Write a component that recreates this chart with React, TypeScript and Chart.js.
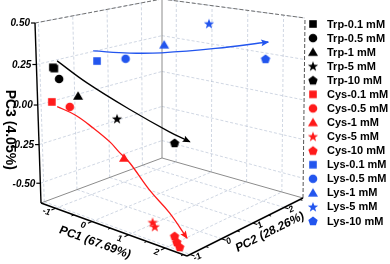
import React, { useEffect, useRef } from 'react';
import { Chart, registerables } from 'chart.js';

Chart.register(...registerables);

// ---------------- axes ----------------
const PC1_RANGE: [number, number] = [-1.4, 2.6];
const PC2_RANGE: [number, number] = [-1.1, 2.6];
const PC3_RANGE: [number, number] = [-0.63, 0.5];
const PC1_TICKS = [-1, 0, 1, 2];
const PC2_TICKS = [-1, 0, 1, 2];
const PC3_TICKS = [-0.5, -0.25, 0, 0.25, 0.5];
const PC1_TICK_LABELS = ['-1', '0', '1', '2'];
const PC2_TICK_LABELS = ['-1', '0', '1', '2'];
const PC3_TICK_LABELS = ['-0.50', '-0.25', '0.00', '0.25', '0.50'];
const AXIS_TITLES = ['PC1 (67.69%)', 'PC2 (28.26%)', 'PC3 (4.05%)'];

// ---------------- series ----------------
const ANALYTES = ['Trp', 'Cys', 'Lys'];
const CONCENTRATIONS = ['0.1 mM', '0.5 mM', '1 mM', '5 mM', '10 mM'];

// replicate scores [PC1, PC2, PC3] per concentration
const TRP_SCORES = [
  [[-1.3, -0.73, 0.221], [-1.26, -0.73, 0.216]],
  [[-1.14, -0.73, 0.158]],
  [[-0.64, -0.73, 0.081]],
  [[0.4, -0.73, 0.001]],
  [[1.95, -0.73, -0.055]],
];
const CYS_SCORES = [
  [[-1.08, -1.03, 0.035]],
  [[-0.6, -1.03, 0.033]],
  [[0.84, -1.03, -0.186]],
  [[1.6, -1.03, -0.515], [1.66, -1.03, -0.536]],
  [[2.2, -1.03, -0.551], [2.26, -1.03, -0.581], [2.34, -1.03, -0.604]],
];
const LYS_SCORES = [
  [[-0.78, 0.01, 0.251]],
  [[-0.51, 0.565, 0.25]],
  [[0.04, 1.12, 0.333]],
  [[0.6, 1.86, 0.447]],
  [[1.84, 2.23, 0.251]],
];

// trend arrows [PC1, PC2, PC3]
const TRP_TREND = [
  [-1.18, -0.73, 0.267], [-0.39, -0.73, 0.174], [0.75, -0.73, 0.075], [1.81, -0.73, 0.001], [2.36, -0.73, -0.027],
];
const CYS_TREND = [
  [-0.94, -1.03, 0.015], [-0.46, -1.03, -0.008], [0.02, -1.03, -0.058], [0.47, -1.03, -0.115], [0.73, -1.03, -0.163],
  [0.996, -1.03, -0.206], [1.52, -1.03, -0.33], [2.07, -1.03, -0.427], [2.54, -1.03, -0.538],
];
const LYS_TREND = [
  [-0.88, 0.01, 0.309], [-0.4, 0.565, 0.291], [-0.03, 1.12, 0.28], [0.78, 1.86, 0.299], [1.91, 2.23, 0.357],
];

// ---------------- styles / layout ----------------
const ANALYTE_COLORS = ['#000000', '#ff1a1a', '#2255ee'];
const MARKER_SHAPES = ['square', 'circle', 'triangle', 'star', 'pentagon'];
const FONT = '"Liberation Sans", Arial, sans-serif';
const W = 390;
const H = 264;
// projected box (in the chart's x/y scale units)
const FLOOR = { A: [41, 203], D: [187, 256], C: [303, 198], B: [162, 158] };
const HEIGHTS = { A: 180, B: 159, C: 180 };
const TILTS = { A: -6, D: 0, C: 2, B: 0 };
const DEPTH_K = 0.052;
const LEGEND = { markerX: 313, textX: 327, top: 24, step: 14.07 };

function norm(v: number, r: [number, number]) {
  return (v - r[0]) / (r[1] - r[0]);
}

function project(u: number, v: number, w: number) {
  const a = (1 - u) * (1 - v), d = u * (1 - v), c = u * v, b = (1 - u) * v;
  const fx = FLOOR.A[0] * a + FLOOR.D[0] * d + FLOOR.C[0] * c + FLOOR.B[0] * b;
  const fy = FLOOR.A[1] * a + FLOOR.D[1] * d + FLOOR.C[1] * c + FLOOR.B[1] * b;
  const iA = 1 / HEIGHTS.A, iB = 1 / HEIGHTS.B, iC = 1 / HEIGHTS.C;
  const iD = iA + iC - iB;
  const invS = iA + u * (iD - iA) + v * (iB - iA);
  const tilt = TILTS.A * a + TILTS.D * d + TILTS.C * c + TILTS.B * b;
  const g = (w * (1 - DEPTH_K)) / (1 - DEPTH_K * w);
  return { x: fx + tilt * g, y: fy - g / invS };
}

function toXY(p: number[]) {
  return project(norm(p[0], PC1_RANGE), norm(p[1], PC2_RANGE), norm(p[2], PC3_RANGE));
}

function makeMarker(shape: string, color: string) {
  const size = 12;
  const cv = document.createElement('canvas');
  cv.width = size;
  cv.height = size;
  const g = cv.getContext('2d')!;
  g.fillStyle = color;
  const m = size / 2;
  g.beginPath();
  if (shape === 'square') {
    g.rect(m - 3.8, m - 3.8, 7.6, 7.6);
  } else if (shape === 'circle') {
    g.arc(m, m, 4.3, 0, Math.PI * 2);
  } else if (shape === 'triangle') {
    g.moveTo(m, m - 4.8);
    g.lineTo(m + 5, m + 3.8);
    g.lineTo(m - 5, m + 3.8);
    g.closePath();
  } else if (shape === 'star') {
    for (let i = 0; i < 10; i++) {
      const r = i % 2 ? 2.2 : 5.4;
      const ang = -Math.PI / 2 + (i * Math.PI) / 5;
      const x = m + r * Math.cos(ang), y = m + 0.3 + r * Math.sin(ang);
      if (i === 0) g.moveTo(x, y); else g.lineTo(x, y);
    }
    g.closePath();
  } else {
    for (let i = 0; i < 5; i++) {
      const ang = -Math.PI / 2 + (i * 2 * Math.PI) / 5;
      const x = m + 4.9 * Math.cos(ang), y = m + 0.4 + 4.9 * Math.sin(ang);
      if (i === 0) g.moveTo(x, y); else g.lineTo(x, y);
    }
    g.closePath();
  }
  g.fill();
  return cv;
}

export default function App() {
  const ref = useRef<HTMLCanvasElement | null>(null);

  useEffect(() => {
    document.body.style.margin = '0';
    const canvas = ref.current;
    if (!canvas) return;

    const allScores = [TRP_SCORES, CYS_SCORES, LYS_SCORES];
    const trends = [TRP_TREND, CYS_TREND, LYS_TREND];
    const markers: HTMLCanvasElement[][] = ANALYTE_COLORS.map((col) => MARKER_SHAPES.map((s) => makeMarker(s, col)));

    const datasets: any[] = [];
    trends.forEach((t, a) => {
      datasets.push({
        label: '',
        isTrend: true,
        data: t.map(toXY),
        showLine: true,
        tension: 0.4,
        borderColor: ANALYTE_COLORS[a],
        borderWidth: 1.3,
        pointRadius: 0,
        fill: false,
        order: 0,
      });
    });
    const legendItems: { text: string; marker: HTMLCanvasElement }[] = [];
    allScores.forEach((series, a) => {
      series.forEach((reps, i) => {
        const label = `${ANALYTES[a]}-${CONCENTRATIONS[i]}`;
        legendItems.push({ text: label, marker: markers[a][i] });
        datasets.push({
          label,
          data: reps.map(toXY),
          pointStyle: markers[a][i],
          pointRadius: 5,
          backgroundColor: ANALYTE_COLORS[a],
          borderColor: ANALYTE_COLORS[a],
          showLine: false,
          order: 1,
        });
      });
    });

    const boxPlugin = {
      id: 'box3d',
      beforeDatasetsDraw(chart: any) {
        const ctx = chart.ctx as CanvasRenderingContext2D;
        const sx = chart.scales.x, sy = chart.scales.y;
        const P = (u: number, v: number, w: number) => {
          const q = project(u, v, w);
          return { x: sx.getPixelForValue(q.x), y: sy.getPixelForValue(q.y) };
        };
        const seg = (p: any, q: any, color: string, width: number, dash: number[] = []) => {
          ctx.save();
          ctx.strokeStyle = color;
          ctx.lineWidth = width;
          ctx.setLineDash(dash);
          ctx.beginPath();
          ctx.moveTo(p.x, p.y);
          ctx.lineTo(q.x, q.y);
          ctx.stroke();
          ctx.restore();
        };
        const gridC = 'rgba(165,178,200,0.65)';
        const gd = [3, 2];
        const u1 = PC1_TICKS.map((t) => norm(t, PC1_RANGE));
        const v2 = PC2_TICKS.map((t) => norm(t, PC2_RANGE));
        const w3 = PC3_TICKS.map((t) => norm(t, PC3_RANGE));
        // floor grid
        u1.forEach((u) => seg(P(u, 0, 0), P(u, 1, 0), gridC, 0.8, gd));
        v2.forEach((v) => seg(P(0, v, 0), P(1, v, 0), gridC, 0.8, gd));
        // left wall grid (PC1 = min)
        v2.forEach((v) => seg(P(0, v, 0), P(0, v, 1), gridC, 0.8, gd));
        w3.forEach((w) => seg(P(0, 0, w), P(0, 1, w), gridC, 0.8, gd));
        // back wall grid (PC2 = max)
        u1.forEach((u) => seg(P(u, 1, 0), P(u, 1, 1), gridC, 0.8, gd));
        w3.forEach((w) => seg(P(0, 1, w), P(1, 1, w), gridC, 0.8, gd));

        // frame edges
        seg(P(0, 0, 0), P(0, 1, 0), '#8c8c8c', 1);
        seg(P(0, 1, 0), P(1, 1, 0), '#8c8c8c', 1);
        seg(P(0, 1, 0), P(0, 1, 1), '#8c8c8c', 1);
        seg(P(1, 1, 0), P(1, 1, 1), '#555555', 1, [4, 2]);
        seg(P(0, 0, 1), P(0, 1, 1), '#707070', 1, [4, 2]);
        seg(P(0, 1, 1), P(1, 1, 1), '#707070', 1, [4, 2]);

        // axes
        seg(P(0, 0, 0), P(0, 0, 1), '#000', 1.4);
        seg(P(0, 0, 0), P(1, 0, 0), '#000', 1.4);
        seg(P(1, 0, 0), P(1, 1, 0), '#000', 1.4);
        // ticks
        w3.forEach((w) => {
          const p = P(0, 0, w);
          seg(p, { x: p.x - 4, y: p.y }, '#000', 1.2);
        });
        u1.forEach((u) => seg(P(u, 0, 0), P(u, -0.035, 0), '#000', 1.1));
        u1.forEach((u) => {
          const um = u + 0.5 / (PC1_RANGE[1] - PC1_RANGE[0]);
          if (um < 1) seg(P(um, 0, 0), P(um, -0.02, 0), '#000', 1);
        });
        v2.forEach((v) => seg(P(1, v, 0), P(1.03, v, 0), '#000', 1.1));
        v2.forEach((v) => {
          const vm = v + 0.5 / (PC2_RANGE[1] - PC2_RANGE[0]);
          if (vm < 1) seg(P(1, vm, 0), P(1.018, vm, 0), '#000', 1);
        });
      },
      afterDatasetsDraw(chart: any) {
        const ctx = chart.ctx as CanvasRenderingContext2D;
        chart.data.datasets.forEach((ds: any, i: number) => {
          if (!ds.isTrend) return;
          const pts = chart.getDatasetMeta(i).data;
          const last = pts[pts.length - 1];
          let bx = last.cp1x, by = last.cp1y;
          if (bx === undefined || (Math.abs(bx - last.x) < 0.5 && Math.abs(by - last.y) < 0.5)) {
            bx = pts[pts.length - 2].x;
            by = pts[pts.length - 2].y;
          }
          const ang = Math.atan2(last.y - by, last.x - bx);
          ctx.save();
          ctx.translate(last.x, last.y);
          ctx.rotate(ang);
          ctx.fillStyle = ds.borderColor;
          ctx.beginPath();
          ctx.moveTo(1, 0);
          ctx.lineTo(-7, -3.3);
          ctx.lineTo(-5.5, 0);
          ctx.lineTo(-7, 3.3);
          ctx.closePath();
          ctx.fill();
          ctx.restore();
        });
      },
      afterDraw(chart: any) {
        const ctx = chart.ctx as CanvasRenderingContext2D;
        const sx = chart.scales.x, sy = chart.scales.y;
        const P = (u: number, v: number, w: number) => {
          const q = project(u, v, w);
          return { x: sx.getPixelForValue(q.x), y: sy.getPixelForValue(q.y) };
        };
        ctx.save();
        ctx.fillStyle = '#000';
        // PC3 tick labels
        ctx.font = `italic bold 10px ${FONT}`;
        ctx.textAlign = 'right';
        ctx.textBaseline = 'middle';
        PC3_TICKS.forEach((t, i) => {
          const p = P(0, 0, norm(t, PC3_RANGE));
          ctx.fillText(PC3_TICK_LABELS[i], p.x - 5, p.y + 0.5);
        });
        // PC3 title
        const t3 = P(0, 0, 0.42);
        ctx.save();
        ctx.translate(t3.x - 29, t3.y);
        ctx.rotate(Math.PI / 2);
        ctx.font = `bold 14px ${FONT}`;
        ctx.textAlign = 'center';
        ctx.fillText(AXIS_TITLES[2], 0, 0);
        ctx.restore();

        const skewText = (text: string, c: any, base: number[], up: number[], font: string) => {
          ctx.save();
          ctx.setTransform(base[0], base[1], -up[0], -up[1], c.x, c.y);
          ctx.font = font;
          ctx.textAlign = 'center';
          ctx.textBaseline = 'middle';
          ctx.fillText(text, 0, 0);
          ctx.restore();
        };
        const a0 = P(0, 0, 0), a1 = P(1, 0, 0), c1 = P(1, 1, 0);
        const l1 = Math.hypot(a1.x - a0.x, a1.y - a0.y);
        const b1 = [(a1.x - a0.x) / l1, (a1.y - a0.y) / l1];
        const l2 = Math.hypot(c1.x - a1.x, c1.y - a1.y);
        const b2 = [(c1.x - a1.x) / l2, (c1.y - a1.y) / l2];
        const up1 = [0.42, -0.9];
        const up2 = [-0.28, -0.96];
        PC1_TICKS.forEach((t, i) => {
          const p = P(norm(t, PC1_RANGE), -0.075, 0);
          skewText(PC1_TICK_LABELS[i], p, b1, up1, `bold 9px ${FONT}`);
        });
        PC2_TICKS.forEach((t, i) => {
          const p = P(1.05, norm(t, PC2_RANGE), 0);
          skewText(PC2_TICK_LABELS[i], p, b2, up2, `bold 9px ${FONT}`);
        });
        skewText(AXIS_TITLES[0], P(0.54, -0.21, 0), b1, up1, `bold 12px ${FONT}`);
        skewText(AXIS_TITLES[1], P(1.15, 0.53, 0), b2, up2, `bold 12px ${FONT}`);

        // legend
        ctx.font = `bold 11px ${FONT}`;
        ctx.textAlign = 'left';
        ctx.textBaseline = 'middle';
        legendItems.forEach((it, i) => {
          const y = LEGEND.top + i * LEGEND.step;
          ctx.drawImage(it.marker, LEGEND.markerX - it.marker.width / 2, y - it.marker.height / 2);
          ctx.fillText(it.text, LEGEND.textX, y + 0.5);
        });
        ctx.restore();
      },
    };

    const chart = new Chart(canvas, {
      type: 'scatter',
      data: { datasets },
      options: {
        animation: false,
        responsive: false,
        devicePixelRatio: 1,
        events: [],
        layout: { padding: 0, autoPadding: false },
        plugins: { legend: { display: false }, tooltip: { enabled: false }, title: { display: false } },
        scales: {
          x: { type: 'linear', min: 0, max: W, display: false },
          y: { type: 'linear', min: 0, max: H, reverse: true, display: false },
        },
      } as any,
      plugins: [boxPlugin],
    });
    return () => chart.destroy();
  }, []);

  return (
    <div style={{ width: W, height: H, background: '#fff' }}>
      <canvas ref={ref} width={W} height={H} style={{ display: 'block' }} />
    </div>
  );
}
